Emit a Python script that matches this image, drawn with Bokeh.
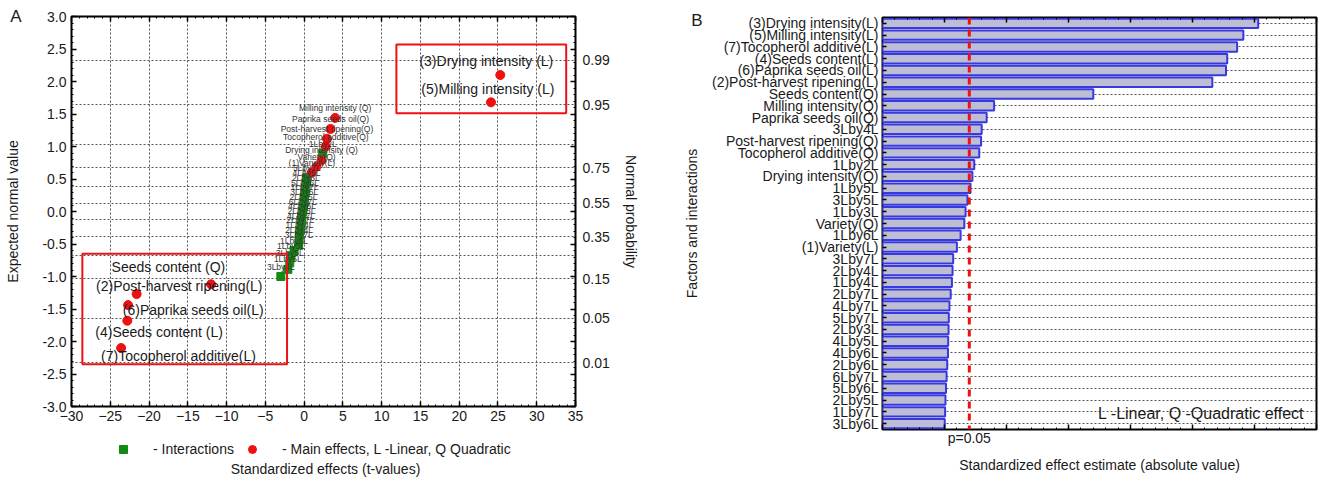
import statistics
from bokeh.plotting import figure
from bokeh.models import (Range1d, LinearAxis, FixedTicker, PrintfTickFormatter,
                          CustomJSTickFormatter, BoxAnnotation, Label, Legend, LegendItem,
                          ColumnDataSource, Span, FactorRange)
from bokeh.layouts import row, column
from bokeh.embed import file_html
from bokeh.resources import INLINE
from bokeh.core.properties import value

FONT = "Liberation Sans"

# ---------------- data ----------------
# Panel B: Pareto chart (absolute standardized effects), top to bottom
factor_names = ["(3)Drying intensity(L)", "(5)Milling intensity(L)", "(7)Tocopherol additive(L)",
                "(4)Seeds content(L)", "(6)Paprika seeds oil(L)", "(2)Post-harvest ripening(L)",
                "Seeds content(Q)", "Milling intensity(Q)", "Paprika seeds oil(Q)", "3Lby4L",
                "Post-harvest ripening(Q)", "Tocopherol additive(Q)", "1Lby2L", "Drying intensity(Q)",
                "1Lby5L", "3Lby5L", "1Lby3L", "Variety(Q)", "1Lby6L", "(1)Variety(L)", "3Lby7L",
                "2Lby4L", "1Lby4L", "2Lby7L", "4Lby7L", "5Lby7L", "2Lby3L", "4Lby5L", "4Lby6L",
                "2Lby6L", "6Lby7L", "5Lby6L", "2Lby5L", "1Lby7L", "3Lby6L"]
abs_effects = [25.3, 24.1, 23.6, 22.8, 22.7, 21.6, 12.0, 4.0, 3.4, 3.0, 2.95, 2.8, 2.4, 2.25,
               2.1, 1.85, 1.7, 1.6, 1.3, 1.0, 0.7, 0.65, 0.6, 0.5, 0.4, 0.35, 0.33, 0.3, 0.28,
               0.22, 0.17, 0.12, 0.08, 0.05, 0.02]
p_crit = 2.0

# Panel A: normal probability plot
main_names = ["(3)Drying intensity (L)", "(5)Milling intensity (L)", "Milling intensity (Q)",
              "Paprika seeds oil(Q)", "Post-harvest ripening(Q)", "Tocopherol additive(Q)",
              "Drying intensity (Q)", "Variety(Q)", "(1)Variety(L)", "Seeds content (Q)",
              "(2)Post-harvest ripening(L)", "(6)Paprika seeds oil(L)", "(4)Seeds content (L)",
              "(7)Tocopherol additive(L)"]
main_t = [25.3, 24.1, 4.0, 3.4, 2.95, 2.8, 2.25, 1.6, 1.0, -12.0, -21.6, -22.7, -22.8, -23.6]
main_expected = [2.10, 1.68, 1.44, 1.27, 1.12, 1.00, 0.79, 0.69, 0.60, -1.12, -1.27, -1.44, -1.68, -2.10]

inter_names = ["3Lby4L", "1Lby5L", "3Lby5L", "1Lby3L", "1Lby6L", "3Lby7L", "2Lby4L", "1Lby4L",
               "2Lby7L", "4Lby7L", "2Lby3L", "4Lby6L", "6Lby7L", "2Lby5L", "3Lby6L", "1Lby7L",
               "5Lby6L", "2Lby6L", "4Lby5L", "5Lby7L", "1Lby2L"]
inter_t = [-3.0, -2.1, -1.85, -1.7, -1.3, -0.7, -0.65, -0.6, -0.5, -0.4, -0.33, -0.28, -0.17,
           -0.08, 0.02, 0.05, 0.12, 0.22, 0.3, 0.35, 2.4]
inter_expected = [-1.00, -0.89, -0.79, -0.69, -0.60, -0.52, -0.44, -0.36, -0.29, -0.22, -0.14,
                  -0.07, 0.00, 0.07, 0.14, 0.22, 0.29, 0.36, 0.44, 0.52, 0.89]

x_ticks_a = list(range(-30, 36, 5))
y_ticks_a = [-3.0 + 0.5 * i for i in range(13)]
prob_grid = [0.01, 0.05, 0.15, 0.25, 0.35, 0.45, 0.55, 0.65, 0.75, 0.85, 0.95, 0.99]
prob_labels = ["0.01", "0.05", "0.15", "0.35", "0.55", "0.75", "0.95", "0.99"]

# highlighted (boxed) main effects: index into main_names, label position
big_idx = [0, 1, 9, 10, 11, 12, 13]
big_x = [23.5, 23.7, -17.5, -16.1, -14.3, -18.7, -16.2]
big_y = [2.32, 1.89, -0.86, -1.15, -1.52, -1.86, -2.22]

RED = "#ee1111"
GREEN = "#138a13"
GRID = "#555555"
TXT = "#1a1a1a"

nd = statistics.NormalDist()
z_grid = [nd.inv_cdf(p) for p in prob_grid]
z_lab = [nd.inv_cdf(float(s)) for s in prob_labels]
y_minor_a = [round(-3 + 0.1 * i, 2) for i in range(61)]


def const_fmt(s):
    return CustomJSTickFormatter(args=dict(s=s), code="return s;")


def style_axis(ax, size="14px"):
    ax.axis_line_color = None
    ax.major_tick_in = 5
    ax.major_tick_out = 0
    ax.minor_tick_in = 2
    ax.minor_tick_out = 0
    ax.major_tick_line_color = "black"
    ax.minor_tick_line_color = "black"
    ax.major_tick_line_width = 1.5
    ax.major_label_text_font = FONT
    ax.major_label_text_font_size = size
    ax.major_label_text_color = TXT
    ax.axis_label_text_font = FONT
    ax.axis_label_text_font_size = "14px"
    ax.axis_label_text_font_style = "normal"
    ax.axis_label_text_color = TXT


def blank_axis(ax):
    style_axis(ax, size="6px")
    ax.formatter = const_fmt("")
    ax.major_label_standoff = 0


def label_axis(ax, size="14px"):
    style_axis(ax, size=size)
    ax.major_tick_in = 0
    ax.minor_tick_in = 0
    ax.major_tick_line_color = None
    ax.minor_tick_line_color = None


# ---------------- Panel A ----------------
pa = figure(width=660, height=431, x_range=Range1d(-30, 35), y_range=Range1d(-3, 3),
            output_backend="svg", toolbar_location=None, frame_align=False,
            min_border_left=71, min_border_right=85, min_border_top=16, min_border_bottom=25)
pa.outline_line_color = "black"
pa.outline_line_width = 2
pa.outline_line_alpha = 1

pa.xaxis.ticker = FixedTicker(ticks=x_ticks_a, minor_ticks=list(range(-30, 36)))
pa.yaxis.ticker = FixedTicker(ticks=y_ticks_a, minor_ticks=y_minor_a)
pa.yaxis.formatter = PrintfTickFormatter(format="%.1f")
style_axis(pa.xaxis[0])
style_axis(pa.yaxis[0])
pa.xaxis.major_label_standoff = 4

# panel letter + y title on an outer left axis
left_a = LinearAxis(ticker=FixedTicker(ticks=[3.0]), formatter=const_fmt("A"),
                    axis_label="Expected normal value")
label_axis(left_a, size="17px")
left_a.major_label_standoff = 18
left_a.axis_label_standoff = -14
pa.add_layout(left_a, "left")

top_a = LinearAxis(ticker=FixedTicker(ticks=x_ticks_a, minor_ticks=list(range(-30, 36))))
blank_axis(top_a)
pa.add_layout(top_a, "above")

# mirrored ticks of the left axis on the right frame edge
right_ticks_a = LinearAxis(ticker=FixedTicker(ticks=y_ticks_a, minor_ticks=y_minor_a))
blank_axis(right_ticks_a)
pa.add_layout(right_ticks_a, "right")

right_a = LinearAxis(ticker=FixedTicker(ticks=z_lab),
                     formatter=CustomJSTickFormatter(args=dict(z=z_lab, labs=prob_labels), code="""
                        for (let i = 0; i < z.length; i++) { if (Math.abs(tick - z[i]) < 1e-6) return labs[i]; }
                        return "";"""),
                     axis_label="Normal probability")
label_axis(right_a)
right_a.major_label_standoff = 7
right_a.axis_label_standoff = 10
pa.add_layout(right_a, "right")

pa.xgrid.ticker = FixedTicker(ticks=x_ticks_a[1:-1])
pa.ygrid.ticker = FixedTicker(ticks=z_grid)
for g in (pa.xgrid[0], pa.ygrid[0]):
    g.grid_line_color = GRID
    g.grid_line_dash = "2 2"
    g.grid_line_width = 1

# boxes around outstanding effects
pa.add_layout(BoxAnnotation(left=11.9, right=33.8, bottom=1.51, top=2.57, fill_alpha=0,
                            line_color=RED, line_width=2, line_alpha=1))
pa.add_layout(BoxAnnotation(left=-28.6, right=-2.2, bottom=-2.35, top=-0.65, fill_alpha=0,
                            line_color=RED, line_width=2, line_alpha=1))

src_int = ColumnDataSource(dict(x=inter_t, y=inter_expected, name=inter_names))
src_main = ColumnDataSource(dict(x=main_t, y=main_expected, name=main_names))
small_idx = [i for i in range(len(main_names)) if i not in big_idx]
src_small = ColumnDataSource(dict(x=[main_t[i] for i in small_idx] + inter_t,
                                  y=[main_expected[i] for i in small_idx] + inter_expected,
                                  name=[main_names[i] for i in small_idx] + inter_names))
src_big = ColumnDataSource(dict(x=big_x, y=big_y, name=[main_names[i] for i in big_idx]))

int_style = dict(marker="square", size=8, fill_color=GREEN, line_color=GREEN)
main_style = dict(marker="circle", size=9, fill_color=RED, line_color=RED)
pa.scatter("x", "y", source=src_int, **int_style)
pa.scatter("x", "y", source=src_main, **main_style)

pa.text("x", "y", text="name", source=src_small, text_font=value(FONT), text_font_size="8.5px",
        text_color="#333333", text_align="center", text_baseline="middle", y_offset=-10)
pa.text("x", "y", text="name", source=src_big, text_font=value(FONT), text_font_size="14px",
        text_color=TXT, text_align="center", text_baseline="middle")

# ---------------- legend strip under panel A ----------------
pleg = figure(width=660, height=50, x_range=Range1d(1000, 1001), y_range=Range1d(1000, 1001),
              output_backend="svg", toolbar_location=None, frame_align=False,
              x_axis_type=None, y_axis_type=None, min_border=0)
pleg.outline_line_color = None
pleg.xgrid.grid_line_color = None
pleg.ygrid.grid_line_color = None
l_int = pleg.scatter("x", "y", source=src_int, **int_style)
l_main = pleg.scatter("x", "y", source=src_main, **main_style)
legend_a = Legend(items=[LegendItem(label="- Interactions", renderers=[l_int]),
                         LegendItem(label="- Main effects, L -Linear, Q Quadratic", renderers=[l_main])],
                  orientation="horizontal", location=(113, 22), border_line_alpha=0,
                  background_fill_alpha=0, label_text_font=FONT, label_text_font_size="14px",
                  label_text_color=TXT, glyph_width=20, glyph_height=20, label_standoff=20,
                  spacing=8, padding=0, margin=0)
pleg.add_layout(legend_a)
pleg.add_layout(Label(x=325, y=13, x_units="screen", y_units="screen",
                      text="Standardized effects (t-values)", text_font=FONT, text_font_size="14px",
                      text_color=TXT, text_align="center", text_baseline="middle"))

# ---------------- Panel B ----------------
n_f = len(factor_names)
pb = figure(width=660, height=481, x_range=Range1d(-5, 30),
            y_range=FactorRange(factors=factor_names[::-1]),
            output_backend="svg", toolbar_location=None, frame_align=False,
            min_border_left=222, min_border_right=4, min_border_top=17, min_border_bottom=52)
pb.outline_line_color = "black"
pb.outline_line_width = 2
pb.outline_line_alpha = 1

pb.hbar(y=factor_names, left=-5, right=abs_effects, height=0.8,
        fill_color="#bdbdd3", line_color="#3838e0", line_width=2)
pb.add_layout(Span(location=p_crit, dimension="height", line_color=RED, line_width=3, line_dash="7 5"))

x_ticks_b = list(range(-5, 31, 5))
pb.xaxis.ticker = FixedTicker(ticks=x_ticks_b, minor_ticks=list(range(-5, 31)))
blank_axis(pb.xaxis[0])
style_axis(pb.yaxis[0], size="14px")
pb.yaxis.major_tick_in = 4
pb.yaxis.major_label_standoff = 4

# panel letter + y title on an outer left axis (synthetic categorical coordinate near the top)
left_b = LinearAxis(ticker=FixedTicker(ticks=[n_f - 0.25]),
                    formatter=const_fmt("B"), axis_label="Factors and interactions")
label_axis(left_b, size="17px")
left_b.major_label_standoff = 6
left_b.axis_label_standoff = -12
pb.add_layout(left_b, "left")

bottom_b = LinearAxis(ticker=FixedTicker(ticks=[p_crit]), formatter=const_fmt("p=0.05"),
                      axis_label="Standardized effect estimate (absolute value)")
label_axis(bottom_b)
bottom_b.major_label_standoff = 0
bottom_b.axis_label_standoff = 8
pb.add_layout(bottom_b, "below")

top_b = LinearAxis(ticker=FixedTicker(ticks=x_ticks_b, minor_ticks=list(range(-5, 31))))
blank_axis(top_b)
pb.add_layout(top_b, "above")

pb.xgrid.grid_line_color = None
pb.ygrid.grid_line_color = GRID
pb.ygrid.grid_line_dash = "2 2"
pb.ygrid.grid_line_width = 1

pb.add_layout(Label(x=29.0, y=1.35, text="L -Linear, Q -Quadratic effect", text_font=FONT,
                    text_font_size="16px", text_color=TXT, text_baseline="middle", text_align="right"))

layout = row(column(pa, pleg), pb)
open("out.html", "w").write(file_html(layout, INLINE))
